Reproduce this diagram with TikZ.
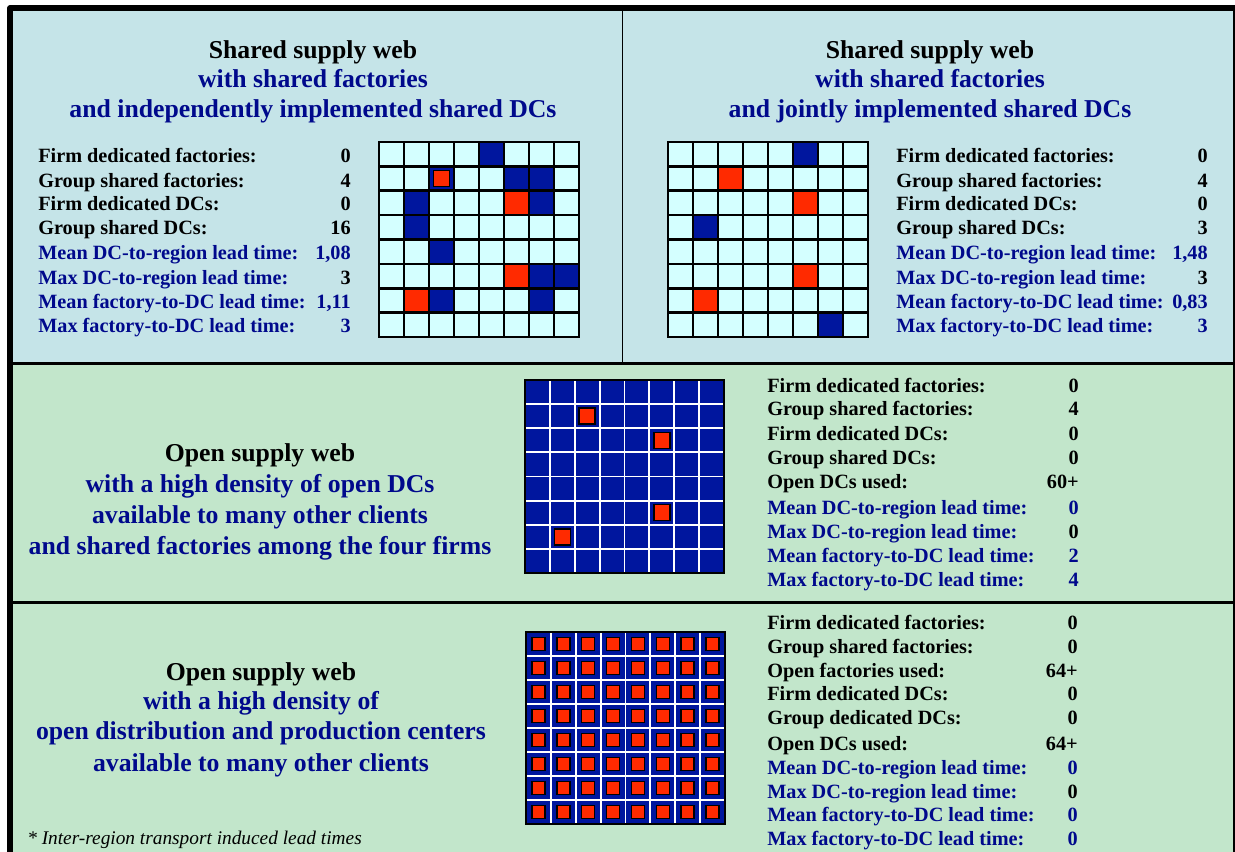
\documentclass[tikz,border=0pt]{standalone}
\usepackage{fontspec}
\setmainfont{Liberation Serif}
\definecolor{bgblue}{HTML}{C5E4E8}
\definecolor{bggreen}{HTML}{C2E6CB}
\definecolor{cellcyan}{HTML}{D4FFFF}
\definecolor{dkblue}{HTML}{00169E}
\definecolor{redc}{HTML}{FF2A00}
\definecolor{navy}{HTML}{00098C}
\begin{document}
\begin{tikzpicture}[x=0.75pt,y=-0.75pt,
  titleline/.style={font=\fontsize{19.3}{22}\selectfont\bfseries, anchor=base, inner sep=0pt},
  stat/.style={font=\fontsize{15.2}{18}\selectfont\bfseries, inner sep=0pt},
  lbl/.style={stat, anchor=mid west},
  val/.style={stat, anchor=mid east},
  gridline/.style={line width=2pt, black},
  whiteline/.style={line width=1.4pt, white},
  inset/.style={draw=black, fill=redc, line width=1.1pt}]
\useasboundingbox (0,0) rectangle (1235,852);
\clip (0,0) rectangle (1235,852);
% backgrounds
\fill[bgblue] (10,8) rectangle (1240,363);
\fill[bggreen] (10,363) rectangle (1240,880);
% dividers
\draw[line width=2.2pt] (10,363.5) -- (1240,363.5);
\draw[line width=2.5pt] (10,602.5) -- (1240,602.5);
\draw[line width=1.4pt] (622.5,8) -- (622.5,363);
% outer frame
\draw[line width=3.8pt, line join=round] (10,880) -- (10,8) -- (1235.5,8) -- (1235.5,880);

% ---------- titles ----------
\node[titleline] (t1a) at (313,58.5) {Shared supply web};
\node[titleline,text=navy] (t1b) at (313,88) {with shared factories};
\node[titleline,text=navy] (t1c) at (313,117.5) {and independently implemented shared DCs};
\node[titleline] (t2a) at (930,58.5) {Shared supply web};
\node[titleline,text=navy] (t2b) at (930,88) {with shared factories};
\node[titleline,text=navy] (t2c) at (930,117.5) {and jointly implemented shared DCs};
\node[titleline] (t3a) at (260,461) {Open supply web};
\node[titleline,text=navy] (t3b) at (260,492) {with a high density of open DCs};
\node[titleline,text=navy] (t3c) at (260,523) {available to many other clients};
\node[titleline,text=navy] (t3d) at (260,554) {and shared factories among the four firms};
\node[titleline] (t4a) at (261,680) {Open supply web};
\node[titleline,text=navy] (t4b) at (261,709) {with a high density of};
\node[titleline,text=navy] (t4c) at (261,739.5) {open distribution and production centers};
\node[titleline,text=navy] (t4d) at (261,771) {available to many other clients};
\node[font=\fontsize{14.5}{17}\selectfont\itshape, anchor=base west, inner sep=0pt] (foot) at (27,844) {* Inter-region transport induced lead times};

% ---------- stats ----------
\foreach \lab/\val/\yy/\lc/\vc [count=\i] in {
  Firm dedicated factories:/0/159.5/black/black,
  Group shared factories:/4/184/black/black,
  Firm dedicated DCs:/0/207.5/black/black,
  Group shared DCs:/16/231.5/black/black,
  Mean DC-to-region lead time:/{1,08}/256/navy/navy,
  Max DC-to-region lead time:/3/281.5/navy/black,
  Mean factory-to-DC lead time:/{1,11}/305.5/navy/navy,
  Max factory-to-DC lead time:/3/329.5/navy/navy}
{ \node[lbl,text=\lc] (sa\i) at (38,\yy) {\lab};
  \node[val,text=\vc] (va\i) at (351,\yy) {\val}; }
\foreach \lab/\val/\yy/\lc/\vc [count=\i] in {
  Firm dedicated factories:/0/159.5/black/black,
  Group shared factories:/4/184/black/black,
  Firm dedicated DCs:/0/207.5/black/black,
  Group shared DCs:/3/231.5/black/black,
  Mean DC-to-region lead time:/{1,48}/256/navy/navy,
  Max DC-to-region lead time:/3/281.5/navy/black,
  Mean factory-to-DC lead time:/{0,83}/305.5/navy/navy,
  Max factory-to-DC lead time:/3/329.5/navy/navy}
{ \node[lbl,text=\lc] (sb\i) at (896,\yy) {\lab};
  \node[val,text=\vc] (vb\i) at (1208,\yy) {\val}; }
\foreach \lab/\val/\yy/\lc/\vc [count=\i] in {
  Firm dedicated factories:/0/389.5/black/black,
  Group shared factories:/4/412.5/black/black,
  Firm dedicated DCs:/0/437.5/black/black,
  Group shared DCs:/0/461.5/black/black,
  Open DCs used:/60+/485.5/black/black,
  Mean DC-to-region lead time:/0/511.5/navy/navy,
  Max DC-to-region lead time:/0/535.5/navy/black,
  Mean factory-to-DC lead time:/2/559.5/navy/navy,
  Max factory-to-DC lead time:/4/583.5/navy/navy}
{ \node[lbl,text=\lc] (sc\i) at (767,\yy) {\lab};
  \node[val,text=\vc] (vc\i) at (1079,\yy) {\val}; }
\foreach \lab/\val/\yy/\lc/\vc [count=\i] in {
  Firm dedicated factories:/0/626/black/black,
  Group shared factories:/0/650/black/black,
  Open factories used:/64+/674/black/black,
  Firm dedicated DCs:/0/697/black/black,
  Group dedicated DCs:/0/721/black/black,
  Open DCs used:/64+/747/black/black,
  Mean DC-to-region lead time:/0/771/navy/navy,
  Max DC-to-region lead time:/0/795/navy/black,
  Mean factory-to-DC lead time:/0/818.5/navy/navy,
  Max factory-to-DC lead time:/0/842.5/navy/navy}
{ \node[lbl,text=\lc] (sd\i) at (767,\yy) {\lab};
  \node[val,text=\vc] (vd\i) at (1078,\yy) {\val}; }

% ---------- grid 1 (top left) ----------
\begin{scope}
\def\GX{379}\def\GY{142}\def\GW{25}\def\GH{24.375}
\fill[cellcyan] (\GX,\GY) rectangle ++({8*\GW},{8*\GH});
\foreach \c/\r in {4/0,2/1,5/1,6/1,1/2,6/2,1/3,2/4,6/5,7/5,2/6,6/6}
  \fill[dkblue] ({\GX+\GW*\c},{\GY+\GH*\r}) rectangle ++(\GW,\GH);
\foreach \c/\r in {5/2,5/5,1/6}
  \fill[redc] ({\GX+\GW*\c},{\GY+\GH*\r}) rectangle ++(\GW,\GH);
\draw[inset] ({\GX+\GW*2.5-8},{\GY+\GH*1.5-8}) rectangle ++(16,16);
\foreach \i in {1,...,7} {
  \draw[gridline] ({\GX+\GW*\i},\GY) -- ++(0,{8*\GH});
  \draw[gridline] (\GX,{\GY+\GH*\i}) -- ++({8*\GW},0); }
\draw[gridline] (\GX,\GY) rectangle ++({8*\GW},{8*\GH});
\end{scope}

% ---------- grid 2 (top right) ----------
\begin{scope}
\def\GX{668}\def\GY{142}\def\GW{25}\def\GH{24.375}
\fill[cellcyan] (\GX,\GY) rectangle ++({8*\GW},{8*\GH});
\foreach \c/\r in {5/0,1/3,6/7}
  \fill[dkblue] ({\GX+\GW*\c},{\GY+\GH*\r}) rectangle ++(\GW,\GH);
\foreach \c/\r in {2/1,5/2,5/5,1/6}
  \fill[redc] ({\GX+\GW*\c},{\GY+\GH*\r}) rectangle ++(\GW,\GH);
\foreach \i in {1,...,7} {
  \draw[gridline] ({\GX+\GW*\i},\GY) -- ++(0,{8*\GH});
  \draw[gridline] (\GX,{\GY+\GH*\i}) -- ++({8*\GW},0); }
\draw[gridline] (\GX,\GY) rectangle ++({8*\GW},{8*\GH});
\end{scope}

% ---------- grid 3 (middle) ----------
\begin{scope}
\def\GX{525}\def\GY{380}\def\GW{24.875}\def\GH{24.125}
\fill[dkblue] (\GX,\GY) rectangle ++({8*\GW},{8*\GH});
\foreach \i in {1,...,7} {
  \draw[whiteline] ({\GX+\GW*\i},\GY) -- ++(0,{8*\GH});
  \draw[whiteline] (\GX,{\GY+\GH*\i}) -- ++({8*\GW},0); }
\foreach \c/\r in {2/1,5/2,5/5,1/6}
  \draw[inset] ({\GX+\GW*(\c+0.5)-8},{\GY+\GH*(\r+0.5)-8}) rectangle ++(16,16);
\draw[gridline] (\GX,\GY) rectangle ++({8*\GW},{8*\GH});
\end{scope}

% ---------- grid 4 (bottom) ----------
\begin{scope}
\def\GX{526}\def\GY{632}\def\GW{24.875}\def\GH{24}
\fill[dkblue] (\GX,\GY) rectangle ++({8*\GW},{8*\GH});
\foreach \i in {1,...,7} {
  \draw[whiteline] ({\GX+\GW*\i},\GY) -- ++(0,{8*\GH});
  \draw[whiteline] (\GX,{\GY+\GH*\i}) -- ++({8*\GW},0); }
\foreach \c in {0,...,7}
  \foreach \r in {0,...,7}
    \draw[inset] ({\GX+\GW*(\c+0.5)-6.5},{\GY+\GH*(\r+0.5)-6.5}) rectangle ++(13,13);
\draw[gridline] (\GX,\GY) rectangle ++({8*\GW},{8*\GH});
\end{scope}
\end{tikzpicture}
\end{document}
